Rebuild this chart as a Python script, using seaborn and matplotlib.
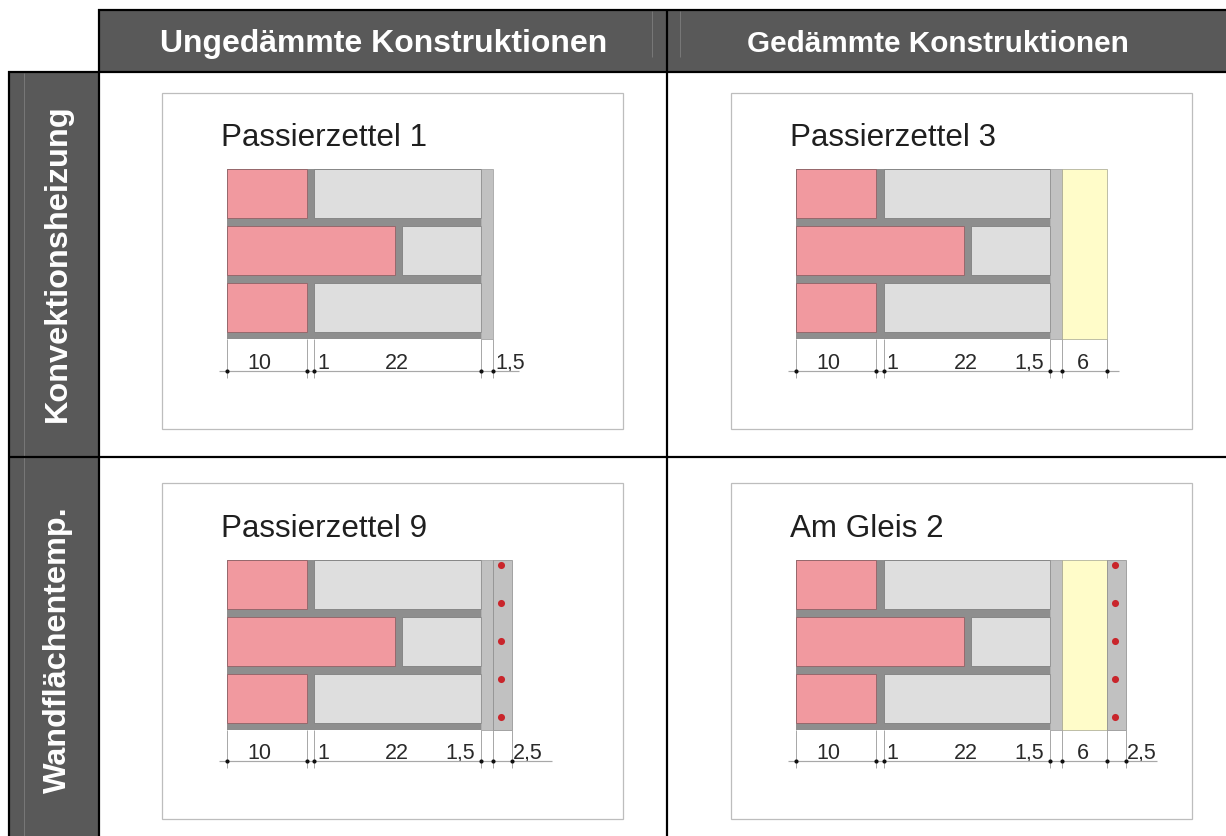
import matplotlib
matplotlib.use("Agg")
import matplotlib.pyplot as plt
from matplotlib.patches import Rectangle
import seaborn as sns

sns.set_theme(style="white")
plt.rcParams['font.family'] = ['Liberation Sans', 'DejaVu Sans']

# Content
column_titles = ["Ungedämmte Konstruktionen", "Gedämmte Konstruktionen"]
row_titles = ["Konvektionsheizung", "Wandflächentemp."]
panel_titles = ["Passierzettel 1", "Passierzettel 3", "Passierzettel 9", "Am Gleis 2"]
has_insulation = [False, True, False, True]
has_heating = [False, False, True, True]

# Layer labels as printed (cm)
label_outer = "10"
label_joint = "1"
label_inner = "22"
label_plaster = "1,5"
label_insul = "6"
label_heat = "2,5"

# Drawn widths of the layers on the page
w_outer = 79.6
w_outer_long = 167.3
w_joint = 7.7
w_inner = 166.7
w_plaster = 11.6
w_insul = 45
w_heat = 19
course_h = 49
mortar_h = 8
wall_h = 170
dim_offset = 201.5

PINK = "#f1999f"
LGREY = "#dedede"
MORTAR = "#8e8e8e"
PLASTER = "#c1c1c1"
INSUL = "#fffcc9"
RED = "#c9252b"
HEAD = "#595959"
BLACK = "#000000"
px = 0.72

fig = plt.figure(figsize=(12.26, 8.37), dpi=100, facecolor="white")
ax = fig.add_axes([0, 0, 1, 1])
ax.set_xlim(0, 1226)
ax.set_ylim(837, 0)
ax.axis("off")


def rect(x0, y0, x1, y1, fc, ec="none", lw=0.0, z=2):
    ax.add_patch(Rectangle((x0, y0), x1 - x0, y1 - y0, facecolor=fc, edgecolor=ec, linewidth=lw, zorder=z))


def line(xs, ys, c, lw, z=4):
    ax.plot(xs, ys, color=c, lw=lw * px, solid_capstyle="butt", zorder=z)


# Header bands
rect(99, 11, 1226, 72, HEAD, z=1)
rect(9, 72, 99, 837, HEAD, z=1)
for x, y0, y1 in [(652.3, 12, 58), (680.3, 12, 58), (23.5, 74, 837)]:
    line([x, x], [y0, y1], "#777777", 1, z=1.5)

# Black grid
line([98, 1226], [11, 11], BLACK, 2.2)
line([8, 1226], [72.5, 72.5], BLACK, 2.2)
line([8, 1226], [458.2, 458.2], BLACK, 2.2)
line([99.2, 99.2], [10, 837], BLACK, 2.2)
line([9.2, 9.2], [71.5, 837], BLACK, 2.2)
line([666.8, 666.8], [11, 837], BLACK, 2.2)

ax.text(383.5, 52, column_titles[0], ha="center", va="baseline", color="white", fontsize=23, fontweight="bold")
ax.text(938, 52, column_titles[1], ha="center", va="baseline", color="white", fontsize=21.4, fontweight="bold")
ax.text(58, 263.5, row_titles[0], rotation=90, ha="center", va="center", color="white", fontsize=23.4, fontweight="bold")
ax.text(58, 649.5, row_titles[1], rotation=90, ha="center", va="center", color="white", fontsize=23.3, fontweight="bold")

panel_x = [162, 731, 162, 731]
panel_y = [93.5, 93.5, 484.3, 484.3]
panel_w = 461
panel_h = 336
dim_ext = [26, 12, 40, 31]

for i in range(4):
    px0, py0 = panel_x[i], panel_y[i]
    rect(px0, py0, px0 + panel_w, py0 + panel_h, "white", "#bdbdbd", 0.9, z=1.8)
    x0 = px0 + 65.2
    top = py0 + 76.5
    bot = top + wall_h
    ax.text(x0 - 6.3, py0 + 52.5, panel_titles[i], ha="left", va="baseline", color="#1f1f1f", fontsize=22.6)

    x_outer = x0 + w_outer
    x_inner0 = x_outer + w_joint
    x_inner1 = x_inner0 + w_inner
    x_pl = x_inner1 + w_plaster
    rect(x0, top, x_inner1, bot, MORTAR)
    for k in range(3):
        y0 = top + k * (course_h + mortar_h)
        y1 = y0 + course_h
        if k == 1:
            rect(x0, y0, x0 + w_outer_long, y1, PINK, "#96686c", 0.7, z=3)
            rect(x0 + w_outer_long + w_joint, y0, x_inner1, y1, LGREY, "#808080", 0.6, z=3)
        else:
            rect(x0, y0, x_outer, y1, PINK, "#96686c", 0.7, z=3)
            rect(x_inner0, y0, x_inner1, y1, LGREY, "#808080", 0.6, z=3)
    rect(x_inner1, top, x_pl, bot, PLASTER, "#8a8a8a", 0.4, z=3)

    ticks = [x0, x_outer, x_inner0, x_inner1, x_pl]
    xr = x_pl
    if has_insulation[i]:
        rect(xr, top, xr + w_insul, bot, INSUL, "#a4a48e", 0.5, z=3)
        xr += w_insul
        ticks.append(xr)
    if has_heating[i]:
        rect(xr, top, xr + w_heat, bot, PLASTER, "#8a8a8a", 0.5, z=3)
        for n in range(5):
            ax.scatter([xr + 8.5], [top + 4.7 + n * 38], s=26, color=RED, linewidths=0, zorder=5)
        xr += w_heat
        ticks.append(xr)

    # Dimension line
    yd = top + dim_offset
    line([x0 - 8, xr + dim_ext[i]], [yd, yd], "#a8a8a8", 1.2)
    for t in ticks:
        line([t, t], [bot, yd + 7], "#a0a0a0", 0.9)
    ax.scatter(ticks, [yd] * len(ticks), s=9, color="#111111", linewidths=0, zorder=6)

    # Dimension labels
    ty = yd - 3
    fs = 15.5
    tc = "#2a2a2a"
    ax.text(x0 + 32.5, ty, label_outer, ha="center", va="baseline", color=tc, fontsize=fs)
    ax.text(x_inner0 + 3, ty, label_joint, ha="left", va="baseline", color=tc, fontsize=fs)
    ax.text(x_inner0 + 82, ty, label_inner, ha="center", va="baseline", color=tc, fontsize=fs)
    if has_insulation[i] or has_heating[i]:
        ax.text(x_inner1 - 6.5, ty, label_plaster, ha="right", va="baseline", color=tc, fontsize=fs)
    else:
        ax.text(x_pl + 3, ty, label_plaster, ha="left", va="baseline", color=tc, fontsize=fs)
    if has_insulation[i]:
        ax.text(x_pl + 21.5, ty, label_insul, ha="center", va="baseline", color=tc, fontsize=fs)
    if has_heating[i]:
        ax.text(xr + 1, ty, label_heat, ha="left", va="baseline", color=tc, fontsize=fs)

fig.savefig("out.png", dpi=100, facecolor="white")
